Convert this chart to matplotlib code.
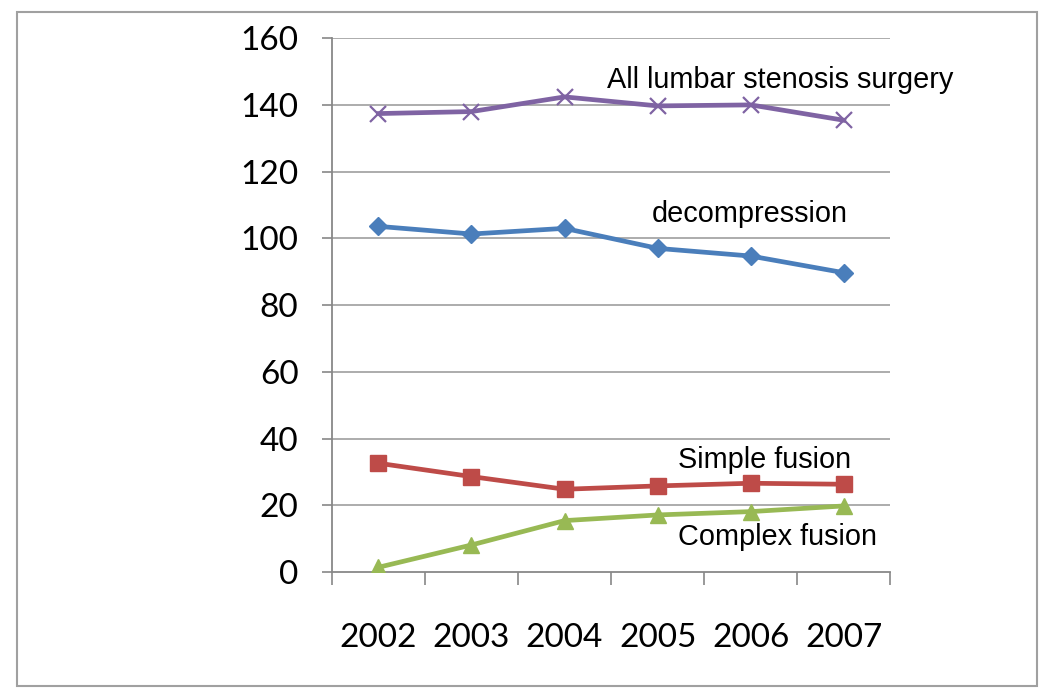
import matplotlib.pyplot as plt
import numpy as np
from matplotlib.patches import Rectangle

# 数据
years = ['2002', '2003', '2004', '2005', '2006', '2007']
all_surgery = [137.4, 138.0, 142.4, 139.7, 140.0, 135.4]
decompression = [103.6, 101.3, 103.0, 97.0, 94.7, 89.7]
simple_fusion = [32.6, 28.6, 24.8, 25.8, 26.6, 26.3]
complex_fusion = [1.4, 8.1, 15.4, 17.1, 18.1, 19.8]

fig = plt.figure(figsize=(10.5, 6.94), dpi=100)
ax = fig.add_axes([0.316, 0.1758, 0.532, 0.7692])

x = np.arange(len(years))
grid_c = '#a6a6a6'

# 网格线
for v in range(20, 161, 20):
    ax.axhline(v, color=grid_c, linewidth=1.3, zorder=1)

ax.plot(x, all_surgery, color='#7F63A3', linewidth=3.4, marker='x',
        markersize=11, markeredgewidth=1.6, zorder=3)
ax.plot(x, decompression, color='#4A7EBB', linewidth=3.4, marker='D',
        markersize=9.5, zorder=3)
ax.plot(x, simple_fusion, color='#BE4B48', linewidth=3.4, marker='s',
        markersize=11, zorder=3)
ax.plot(x, complex_fusion, color='#98B954', linewidth=3.4, marker='^',
        markersize=11, zorder=3)

# 文字标注
lab_font = dict(family='Liberation Sans', fontsize=20.8, va='center', ha='left')
ax.text(2.46, 147.4, 'All lumbar stenosis surgery', **lab_font)
ax.text(2.94, 107.3, 'decompression', **lab_font)
ax.text(3.22, 33.6, 'Simple fusion', **lab_font)
ax.text(3.22, 10.5, 'Complex fusion', **lab_font)

ax.set_xlim(-0.5, 5.5)
ax.set_ylim(0, 160)
ax.set_yticks(range(0, 161, 20))
ax.set_yticklabels([str(v) for v in range(0, 161, 20)], family='Lato', fontsize=24)
ax.set_xticks(x)
ax.set_xticklabels(years, family='Lato', fontsize=24)
ax.set_xticks(np.arange(-0.5, 6, 1), minor=True)
ax.tick_params(axis='x', which='major', length=0, pad=37)
ax.tick_params(axis='x', which='minor', length=9, color='#888888', width=1.2, direction='out')
ax.tick_params(axis='y', length=7, color='#888888', width=1.2, pad=17)

for s in ['top', 'right']:
    ax.spines[s].set_visible(False)
for s in ['left', 'bottom']:
    ax.spines[s].set_color('#888888')
    ax.spines[s].set_linewidth(1.3)

# 外框
fig.patches.append(Rectangle((17 / 1050, 1 - 686 / 694), 1020 / 1050, 674 / 694,
                             transform=fig.transFigure, fill=False,
                             edgecolor='#a0a0a0', linewidth=1.5))

fig.savefig('out.png', dpi=100)
